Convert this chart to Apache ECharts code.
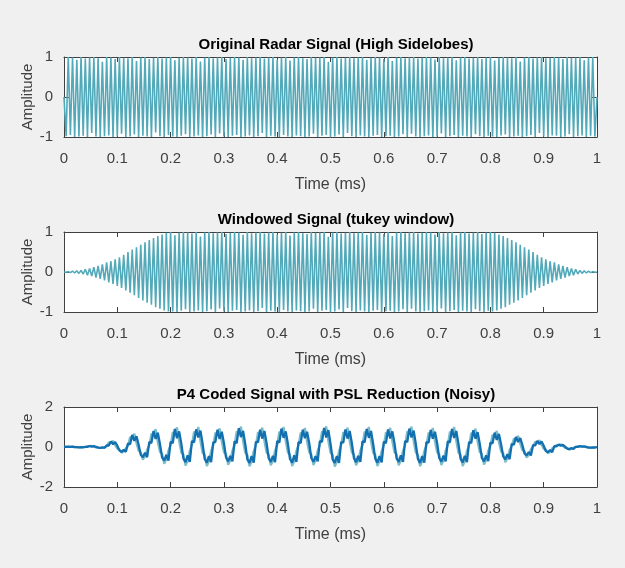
<!DOCTYPE html>
<html>
<head>
<meta charset="utf-8">
<script src="https://cdn.jsdelivr.net/npm/echarts@6/dist/echarts.min.js"></script>
<style>
  html, body { margin: 0; padding: 0; background: #f0f0f0; }
  #main { width: 625px; height: 568px; }
</style>
</head>
<body>
<div id="main"></div>
<script>
// sample step (ms) shared by all three signals
var dt = 0.004;

var xTicks = [0, 1, 0.1];   // min, max, step (ms)

// original radar signal, samples
var sigOriginal = [
  0, -0.98, 1, -0.95, 0.99, -1, 0.93, -0.99, 1, -0.97,
  0.96, -1, 0.99, -0.9, 1, -0.99, 0.97, -1, 0.88, -0.98,
  1, -0.96, 0.99, -1, 0.95, -0.99, 1, -0.92, 0.98, -1,
  0.97, -0.99, 1, -0.94, 0.9, -1, 0.99, -0.97, 1, -0.99,
  0.95, -1, 0.98, -0.89, 1, -0.98, 0.96, -1, 0.99, -0.95,
  1, -0.99, 0.92, -1, 0.98, -0.97, 1, -0.93, 0.99, -1,
  0.96, -0.99, 1, -0.96, 0.89, -1, 0.99, -0.98, 1, -0.94,
  0.97, -1, 0.99, -0.91, 1, -0.99, 0.95, -1, 0.98, -0.97,
  1, -0.95, 0.99, -1, 0.93, -0.99, 1, -0.96, 0.97, -1,
  0.99, -0.98, 1, -0.9, 0.96, -1, 0.99, -0.97, 1, -0.99,
  0.94, -1, 0.98, -0.95, 1, -0.99, 0.91, -1, 0.99, -0.96,
  1, -0.98, 0.97, -1, 0.95, -0.99, 1, -0.92, 0.98, -1,
  0.99, -0.97, 1, -0.95, 0.88, -1, 0.99, -0.99, 1, -0.94,
  0.96, -1, 0.98, -0.9, 1, -0.98, 0.97, -1, 0.99, -0.96,
  1, -0.99, 0.93, -1, 0.98, -0.97, 1, -0.95, 0.99, -1,
  0.95, -0.98, 1, -0.97, 0.9, -1, 0.99, -0.99, 1, -0.93,
  0.97, -1, 0.99, -0.92, 1, -0.99, 0.96, -1, 0.98, -0.98,
  1, -0.96, 0.99, -1, 0.94, -0.99, 1, -0.91, 0.97, -1,
  0.99, -0.98, 1, -0.95, 0.92, -1, 0.99, -0.97, 1, -0.99,
  0.96, -1, 0.98, -0.93, 1, -0.98, 0.95, -1, 0.99, -0.97,
  1, -0.99, 0.91, -1, 0.98, -0.96, 1, -0.94, 0.99, -1,
  0.97, -0.99, 1, -0.97, 0.89, -1, 0.99, -0.98, 1, -0.95,
  0.96, -1, 0.99, -0.9, 1, -0.99, 0.97, -1, 0.98, -0.96,
  1, -0.97, 0.99, -1, 0.95, -0.99, 1, -0.93, 0.98, -1,
  0.99, -0.98, 1, -0.96, 0.92, -1, 0.99, -0.97, 1, -0.99,
  0
];

// tukey windowed signal
var sigWindowed = [
  0, -0.005, 0.01, -0.015, 0.02, -0.025, 0.03, -0.035, 0.04, -0.05,
  0.07, -0.08, 0.09, -0.1, 0.12, -0.14, 0.15, -0.17, 0.19, -0.21,
  0.24, -0.26, 0.27, -0.3, 0.32, -0.35, 0.37, -0.4, 0.43, -0.46,
  0.5, -0.52, 0.56, -0.58, 0.62, -0.65, 0.68, -0.71, 0.74, -0.77,
  0.8, -0.82, 0.85, -0.88, 0.9, -0.92, 0.94, -0.96, 0.98, -0.99,
  1, -0.99, 0.92, -1, 0.98, -0.97, 1, -0.93, 0.99, -1,
  0.96, -0.99, 1, -0.96, 0.89, -1, 0.99, -0.98, 1, -0.94,
  0.97, -1, 0.99, -0.91, 1, -0.99, 0.95, -1, 0.98, -0.97,
  1, -0.95, 0.99, -1, 0.93, -0.99, 1, -0.96, 0.97, -1,
  0.99, -0.98, 1, -0.9, 0.96, -1, 0.99, -0.97, 1, -0.99,
  0.94, -1, 0.98, -0.95, 1, -0.99, 0.91, -1, 0.99, -0.96,
  1, -0.98, 0.97, -1, 0.95, -0.99, 1, -0.92, 0.98, -1,
  0.99, -0.97, 1, -0.95, 0.88, -1, 0.99, -0.99, 1, -0.94,
  0.96, -1, 0.98, -0.9, 1, -0.98, 0.97, -1, 0.99, -0.96,
  1, -0.99, 0.93, -1, 0.98, -0.97, 1, -0.95, 0.99, -1,
  0.95, -0.98, 1, -0.97, 0.9, -1, 0.99, -0.99, 1, -0.93,
  0.97, -1, 0.99, -0.92, 1, -0.99, 0.96, -1, 0.98, -0.98,
  1, -0.96, 0.99, -1, 0.94, -0.99, 1, -0.91, 0.97, -1,
  0.99, -0.98, 1, -0.95, 0.92, -1, 0.99, -0.97, 1, -0.99,
  0.96, -1, 0.98, -0.93, 1, -0.98, 0.95, -1, 0.99, -0.97,
  1, -0.99, 0.98, -0.96, 0.94, -0.92, 0.9, -0.88, 0.85, -0.82,
  0.8, -0.77, 0.74, -0.71, 0.68, -0.65, 0.62, -0.58, 0.56, -0.52,
  0.5, -0.46, 0.43, -0.4, 0.37, -0.35, 0.32, -0.3, 0.27, -0.26,
  0.24, -0.21, 0.19, -0.17, 0.15, -0.14, 0.12, -0.1, 0.09, -0.08,
  0.07, -0.05, 0.04, -0.035, 0.03, -0.025, 0.02, -0.015, 0.01, -0.005,
  0
];

// P4 coded signal, lighter trace (drawn underneath)
var sigP4Light = [
  0, 0.02, 0.01, 0.02, 0.01, -0.01, -0.01, -0.02, -0.02, 0,
  0.01, 0.04, 0.04, 0.06, 0.02, -0.02, -0.02, -0.05, -0.04, -0.01,
  0.03, 0.24, 0.21, 0.31, 0.08, -0.08, -0.11, -0.29, -0.22, -0.06,
  0.06, 0.5, 0.44, 0.66, 0.19, -0.19, -0.26, -0.63, -0.47, -0.13,
  0.08, 0.67, 0.59, 0.89, 0.25, -0.25, -0.33, -0.84, -0.63, -0.17,
  0.09, 0.74, 0.65, 0.98, 0.28, -0.28, -0.37, -0.93, -0.7, -0.19,
  0.1, 0.76, 0.67, 1.0, 0.29, -0.29, -0.38, -0.95, -0.71, -0.19,
  0.09, 0.71, 0.62, 0.93, 0.27, -0.27, -0.36, -0.89, -0.67, -0.18,
  0.1, 0.78, 0.68, 1.02, 0.29, -0.29, -0.39, -0.97, -0.73, -0.19,
  0.09, 0.74, 0.64, 0.97, 0.28, -0.28, -0.37, -0.92, -0.69, -0.18,
  0.1, 0.76, 0.66, 1.0, 0.29, -0.28, -0.38, -0.95, -0.71, -0.19,
  0.09, 0.72, 0.63, 0.95, 0.27, -0.27, -0.36, -0.9, -0.68, -0.18,
  0.1, 0.78, 0.69, 1.03, 0.29, -0.29, -0.39, -0.98, -0.74, -0.2,
  0.09, 0.74, 0.64, 0.97, 0.28, -0.28, -0.37, -0.92, -0.69, -0.18,
  0.1, 0.76, 0.67, 1.0, 0.29, -0.29, -0.38, -0.95, -0.71, -0.19,
  0.09, 0.73, 0.64, 0.96, 0.27, -0.27, -0.36, -0.91, -0.68, -0.18,
  0.1, 0.78, 0.68, 1.02, 0.29, -0.29, -0.39, -0.97, -0.73, -0.19,
  0.09, 0.72, 0.63, 0.95, 0.27, -0.27, -0.36, -0.9, -0.68, -0.18,
  0.1, 0.76, 0.66, 1.0, 0.28, -0.28, -0.38, -0.95, -0.71, -0.19,
  0.09, 0.7, 0.62, 0.92, 0.26, -0.26, -0.35, -0.88, -0.66, -0.18,
  0.08, 0.61, 0.53, 0.8, 0.23, -0.23, -0.3, -0.76, -0.57, -0.15,
  0.05, 0.42, 0.37, 0.56, 0.16, -0.16, -0.21, -0.53, -0.4, -0.11,
  0.03, 0.26, 0.22, 0.34, 0.1, -0.1, -0.13, -0.32, -0.24, -0.06,
  0.01, 0.1, 0.09, 0.14, 0.04, -0.04, -0.05, -0.13, -0.1, -0.03,
  0, 0.03, 0.03, 0.04, 0.01, -0.01, -0.02, -0.04, -0.03, -0.01,
  0
];

// P4 coded signal, darker trace (on top)
var sigP4Dark = [
  0, 0.01, 0.02, 0.01, 0.02, 0, -0.01, -0.02, -0.01, -0.02,
  0.01, 0.01, 0.05, 0.02, 0.04, 0.01, -0.03, -0.04, -0.02, -0.04,
  0.08, 0.07, 0.28, 0.14, 0.25, 0.06, -0.18, -0.24, -0.14, -0.24,
  0.17, 0.14, 0.6, 0.31, 0.54, 0.11, -0.39, -0.51, -0.29, -0.51,
  0.24, 0.21, 0.8, 0.4, 0.72, 0.15, -0.52, -0.68, -0.4, -0.68,
  0.26, 0.2, 0.9, 0.44, 0.78, 0.18, -0.57, -0.76, -0.42, -0.74,
  0.3, 0.24, 0.88, 0.48, 0.82, 0.16, -0.6, -0.78, -0.45, -0.76,
  0.22, 0.26, 0.86, 0.4, 0.76, 0.2, -0.52, -0.72, -0.44, -0.72,
  0.28, 0.2, 0.94, 0.5, 0.8, 0.15, -0.62, -0.8, -0.46, -0.78,
  0.26, 0.24, 0.86, 0.42, 0.8, 0.2, -0.56, -0.74, -0.44, -0.76,
  0.3, 0.22, 0.92, 0.46, 0.78, 0.16, -0.6, -0.78, -0.42, -0.74,
  0.24, 0.2, 0.86, 0.44, 0.76, 0.2, -0.55, -0.74, -0.46, -0.72,
  0.3, 0.26, 0.95, 0.48, 0.84, 0.17, -0.62, -0.8, -0.45, -0.8,
  0.25, 0.22, 0.88, 0.42, 0.8, 0.2, -0.56, -0.76, -0.44, -0.75,
  0.28, 0.24, 0.9, 0.46, 0.8, 0.16, -0.58, -0.78, -0.46, -0.77,
  0.26, 0.2, 0.88, 0.43, 0.78, 0.19, -0.57, -0.74, -0.42, -0.74,
  0.3, 0.25, 0.92, 0.48, 0.82, 0.16, -0.6, -0.8, -0.46, -0.78,
  0.24, 0.22, 0.85, 0.42, 0.76, 0.2, -0.55, -0.73, -0.43, -0.72,
  0.28, 0.23, 0.9, 0.45, 0.8, 0.17, -0.58, -0.77, -0.44, -0.76,
  0.25, 0.2, 0.84, 0.42, 0.74, 0.17, -0.55, -0.72, -0.42, -0.7,
  0.22, 0.18, 0.72, 0.36, 0.65, 0.14, -0.47, -0.61, -0.36, -0.61,
  0.15, 0.12, 0.5, 0.25, 0.45, 0.1, -0.32, -0.42, -0.25, -0.42,
  0.09, 0.08, 0.3, 0.15, 0.27, 0.06, -0.2, -0.26, -0.15, -0.26,
  0.04, 0.03, 0.12, 0.06, 0.11, 0.02, -0.08, -0.1, -0.06, -0.1,
  0.01, 0.01, 0.04, 0.02, 0.03, 0.01, -0.03, -0.03, -0.02, -0.03,
  0
];

var titles = [
  'Original Radar Signal (High Sidelobes)',
  'Windowed Signal (tukey window)',
  'P4 Coded Signal with PSL Reduction (Noisy)'
];
var yRanges = [[-1, 1, 1], [-1, 1, 1], [-2, 2, 2]];

var chart = echarts.init(document.getElementById('main'));

function toPoints(values) {
  return values.map(function (v, i) {
    return [+(i * dt).toFixed(4), v];
  });
}

var font = 'Liberation Sans, Arial, sans-serif';
var axisColor = '#404040';
var gridTops = [57, 232, 407];
var gridH = 80;

var grids = [], xAxes = [], yAxes = [], titleList = [];
for (var g = 0; g < 3; g++) {
  grids.push({
    left: 64, right: 28, top: gridTops[g], height: gridH,
    show: true, backgroundColor: '#fff', borderWidth: 0
  });
  titleList.push({
    text: titles[g], left: 331, top: gridTops[g] - 25, textAlign: 'center',
    textStyle: { fontFamily: font, fontSize: 15, fontWeight: 'bold', color: '#000' }
  });
  [false, true].forEach(function (isTop) {
    xAxes.push({
      type: 'value', gridIndex: g, position: isTop ? 'top' : 'bottom',
      min: xTicks[0], max: xTicks[1], interval: xTicks[2],
      name: isTop ? '' : 'Time (ms)', nameLocation: 'middle', nameGap: 40,
      nameMoveOverlap: false,
      nameTextStyle: { fontFamily: font, fontSize: 16, color: axisColor },
      axisLine: { show: true, onZero: false, lineStyle: { color: axisColor, width: 1 } },
      axisTick: { show: true, inside: true, length: 5, lineStyle: { color: axisColor } },
      axisLabel: { show: !isTop, margin: 14, fontFamily: font, fontSize: 15, color: axisColor },
      splitLine: { show: false }
    });
    yAxes.push({
      type: 'value', gridIndex: g, position: isTop ? 'right' : 'left',
      min: yRanges[g][0], max: yRanges[g][1], interval: yRanges[g][2],
      name: isTop ? '' : 'Amplitude', nameLocation: 'middle', nameGap: 29,
      nameMoveOverlap: false,
      nameTextStyle: { fontFamily: font, fontSize: 15, color: axisColor },
      axisLine: { show: true, onZero: false, lineStyle: { color: axisColor, width: 1 } },
      axisTick: { show: true, inside: true, length: 5, lineStyle: { color: axisColor } },
      axisLabel: { show: !isTop, margin: 11, fontFamily: font, fontSize: 15, color: axisColor },
      splitLine: { show: false }
    });
  });
}

function lineSeries(values, g, color, width) {
  return {
    type: 'line', xAxisIndex: g * 2, yAxisIndex: g * 2,
    data: toPoints(values), showSymbol: false, symbol: 'none',
    lineStyle: { color: color, width: width }, silent: true
  };
}

chart.setOption({
  backgroundColor: '#f0f0f0',
  animation: false,
  title: titleList,
  grid: grids,
  xAxis: xAxes,
  yAxis: yAxes,
  series: [
    lineSeries(sigOriginal, 0, '#52a9b9', 1.6),
    lineSeries(sigWindowed, 1, '#52a9b9', 1.6),
    lineSeries(sigP4Light, 2, '#7dbdc9', 2.2),
    lineSeries(sigP4Dark, 2, '#1370b0', 2.3)
  ]
});
</script>
</body>
</html>
